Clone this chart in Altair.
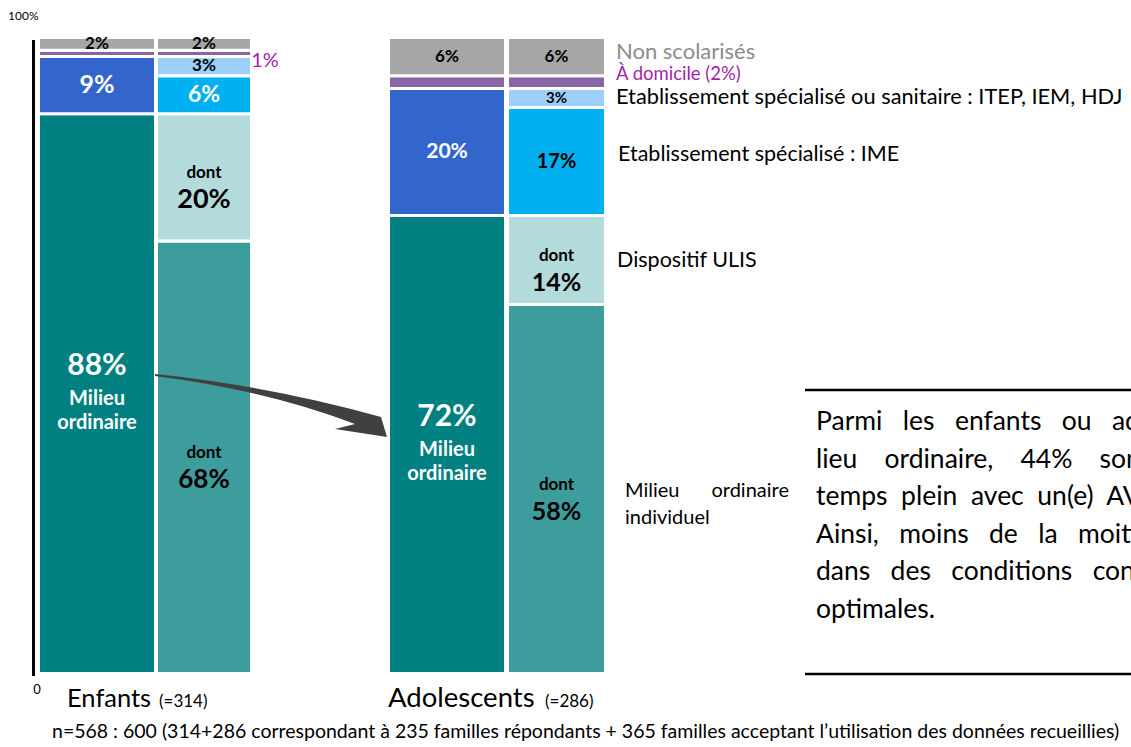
import altair as alt
import pandas as pd

# ---------------- data ----------------
column_ids = ["E_total", "E_detail", "A_total", "A_detail"]

cats_total = ["Milieu ordinaire", "Etablissement spécialisé", "À domicile", "Non scolarisés"]
cats_detail = ["Milieu ordinaire individuel", "Dispositif ULIS", "Etablissement spécialisé : IME",
               "Etablissement spécialisé ou sanitaire", "À domicile", "Non scolarisés"]

enfants_total = [88, 9, 1, 2]
enfants_detail = [68, 20, 6, 3, 1, 2]
ados_total = [72, 20, 2, 6]
ados_detail = [58, 14, 17, 3, 2, 6]

group_titles = ["Enfants", "Adolescents"]
group_counts = ["(=314)", "(=286)"]
footnote = ("n=568 : 600 (314+286 correspondant à 235 familles répondants + 365 familles "
            "acceptant l\u2019utilisation des données recueillies)")

# ---------------- styles / layout ----------------
FONT = "Lato"
COLORS = {
    "Milieu ordinaire": "#008080",
    "Etablissement spécialisé": "#3366CC",
    "À domicile": "#8766A6",
    "Non scolarisés": "#A6A6A6",
    "Milieu ordinaire individuel": "#3D9C9C",
    "Dispositif ULIS": "#B4DBDB",
    "Etablissement spécialisé : IME": "#00B0F0",
    "Etablissement spécialisé ou sanitaire": "#9ECEFA",
}
MAGENTA = "#A225A8"
COL_EDGES = {"E_total": (38.5, 155.5), "E_detail": (156.5, 251.5),
             "A_total": (388.5, 505.5), "A_detail": (507.5, 605.5)}
ROLE_DY = {"single": 0, "top3": -28, "mid3": 5, "bot3": 29, "dont": -4, "val2": 23}

LABELS = {
    ("E_total", "Milieu ordinaire"): [("{v}%", "top3", 30, "white"), ("Milieu", "mid3", 20, "white"),
                                      ("ordinaire", "bot3", 20, "white")],
    ("E_total", "Etablissement spécialisé"): [("{v}%", "single", 25, "white")],
    ("E_total", "Non scolarisés"): [("{v}%", "single", 17, "black")],
    ("E_detail", "Milieu ordinaire individuel"): [("dont", "dont", 17, "black"), ("{v}%", "val2", 26, "black")],
    ("E_detail", "Dispositif ULIS"): [("dont", "dont", 17, "black"), ("{v}%", "val2", 27, "black")],
    ("E_detail", "Etablissement spécialisé : IME"): [("{v}%", "single", 23, "white")],
    ("E_detail", "Etablissement spécialisé ou sanitaire"): [("{v}%", "single", 17, "black")],
    ("E_detail", "Non scolarisés"): [("{v}%", "single", 17, "black")],
    ("A_total", "Milieu ordinaire"): [("{v}%", "top3", 30, "white"), ("Milieu", "mid3", 20, "white"),
                                      ("ordinaire", "bot3", 20, "white")],
    ("A_total", "Etablissement spécialisé"): [("{v}%", "single", 21, "white")],
    ("A_total", "Non scolarisés"): [("{v}%", "single", 17, "black")],
    ("A_detail", "Milieu ordinaire individuel"): [("dont", "dont", 17, "black"), ("{v}%", "val2", 25, "black")],
    ("A_detail", "Dispositif ULIS"): [("dont", "dont", 17, "black"), ("{v}%", "val2", 25, "black")],
    ("A_detail", "Etablissement spécialisé : IME"): [("{v}%", "single", 20, "black")],
    ("A_detail", "Etablissement spécialisé ou sanitaire"): [("{v}%", "single", 15, "black")],
    ("A_detail", "Non scolarisés"): [("{v}%", "single", 17, "black")],
}

# ---------------- build tables ----------------
series = {"E_total": (cats_total, enfants_total), "E_detail": (cats_detail, enfants_detail),
          "A_total": (cats_total, ados_total), "A_detail": (cats_detail, ados_detail)}
seg_rows, lab_rows = [], []
for cid in column_ids:
    cats, vals = series[cid]
    x0, x1 = COL_EDGES[cid]
    cum = 0
    for c, v in zip(cats, vals):
        y0, y1 = cum, cum + v
        cum = y1
        seg_rows.append(dict(col=cid, category=c, value=v, y0=y0, y1=y1, x0=x0, x1=x1))
        for t, role, fs, fc in LABELS.get((cid, c), []):
            lab_rows.append(dict(text=t.format(v=v), role=role, fs=fs, fc=fc,
                                 xc=(x0 + x1) / 2, mid=(y0 + y1) / 2))
seg = pd.DataFrame(seg_rows)
labs = pd.DataFrame(lab_rows)

yscale = alt.Scale(domain=[0, 100], range=[673.5, 37.5])
dom = list(COLORS.keys())

bars = alt.Chart(seg).mark_rect(stroke="white", strokeWidth=3).encode(
    x=alt.X("x0:Q", scale=None),
    x2="x1:Q",
    y=alt.Y("y0:Q", scale=yscale, axis=None),
    y2="y1:Q",
    color=alt.Color("category:N", scale=alt.Scale(domain=dom, range=[COLORS[d] for d in dom]), legend=None),
)

label_layers = []
for role, dy in ROLE_DY.items():
    label_layers.append(
        alt.Chart(labs).transform_filter(alt.datum.role == role).mark_text(
            font=FONT, fontWeight="bold", baseline="middle", align="center", dy=dy
        ).encode(
            x=alt.X("xc:Q", scale=None),
            y=alt.Y("mid:Q", scale=yscale, axis=None),
            text="text:N",
            size=alt.Size("fs:Q", scale=None, legend=None),
            color=alt.Color("fc:N", scale=None, legend=None),
        )
    )

dummy = pd.DataFrame({"k": [0]})


def txt(text, x, y, size, color="black", align="left", weight="normal", baseline="alphabetic"):
    return alt.Chart(dummy).mark_text(
        text=text, font=FONT, fontSize=size, color=color, align=align, fontWeight=weight,
        baseline=baseline, clip=True
    ).encode(x=alt.value(x), y=alt.value(y))


def rule(x, y, x2=None, y2=None, width=2.5, color="black"):
    enc = dict(x=alt.value(x), y=alt.value(y))
    if x2 is not None:
        enc["x2"] = alt.value(x2)
    if y2 is not None:
        enc["y2"] = alt.value(y2)
    return alt.Chart(dummy).mark_rule(color=color, strokeWidth=width).encode(**enc)


NB = "\u00a0"
box_lines = [
    f"Parmi{NB*3}les{NB*3}enfants{NB*3}ou{NB*3}adolescents",
    f"lieu{NB*4}ordinaire,{NB*4}44%{NB*4}sont",
    f"temps{NB*2}plein{NB*2}avec{NB*2}un(e){NB*2}AVS",
    f"Ainsi,{NB*3}moins{NB*3}de{NB*3}la{NB*3}moitié",
    f"dans{NB*3}des{NB*3}conditions{NB*3}considérées",
    "optimales.",
]

annot = [
    rule(33.5, 40, y2=676, width=3),
    txt("100%", 8, 20, 12),
    txt("0", 37, 694, 13, align="center"),
    txt("1%", 265, 61, 20, color=MAGENTA, align="center", baseline="middle"),
    txt("Non scolarisés", 616, 59, 22, color="#8C8C8C"),
    txt("À domicile (2%)", 616, 80, 18.5, color=MAGENTA),
    txt("Etablissement spécialisé ou sanitaire : ITEP, IEM, HDJ", 616, 104, 21.8),
    txt("Etablissement spécialisé : IME", 618, 161, 21.5),
    txt("Dispositif ULIS", 617, 267, 21.5),
    txt("Milieu", 625, 497, 20),
    txt("ordinaire", 789, 497, 20, align="right"),
    txt("individuel", 625, 524, 20),
    txt(group_titles[0], 67, 707, 25.5),
    txt(group_counts[0], 159, 707, 17),
    txt(group_titles[1], 388, 707, 27.5),
    txt(group_counts[1], 545, 707, 17),
    txt(footnote, 52, 738, 19.5),
    rule(805, 390, x2=1131, width=2.5),
    rule(805, 674, x2=1131, width=2.5),
]
for i, line in enumerate(box_lines):
    annot.append(txt(line, 816, 430 + 37.5 * i, 26.5))

arrow = alt.Chart(dummy).mark_point(
    shape="M0,0 Q115,12 226,43 L232,63 L180,55 L200,50 Q110,16 0,2 Z",
    size=4, filled=True, color="#404040", opacity=1, strokeWidth=0,
).encode(x=alt.value(155), y=alt.value(374))

chart = alt.layer(bars, *label_layers, arrow, *annot).properties(
    width=1131, height=747, padding=0,
    autosize=alt.AutoSizeParams(type="none"),
).configure_view(stroke=None)

chart.save("out.html", embed_options={"renderer": "svg", "actions": False})
